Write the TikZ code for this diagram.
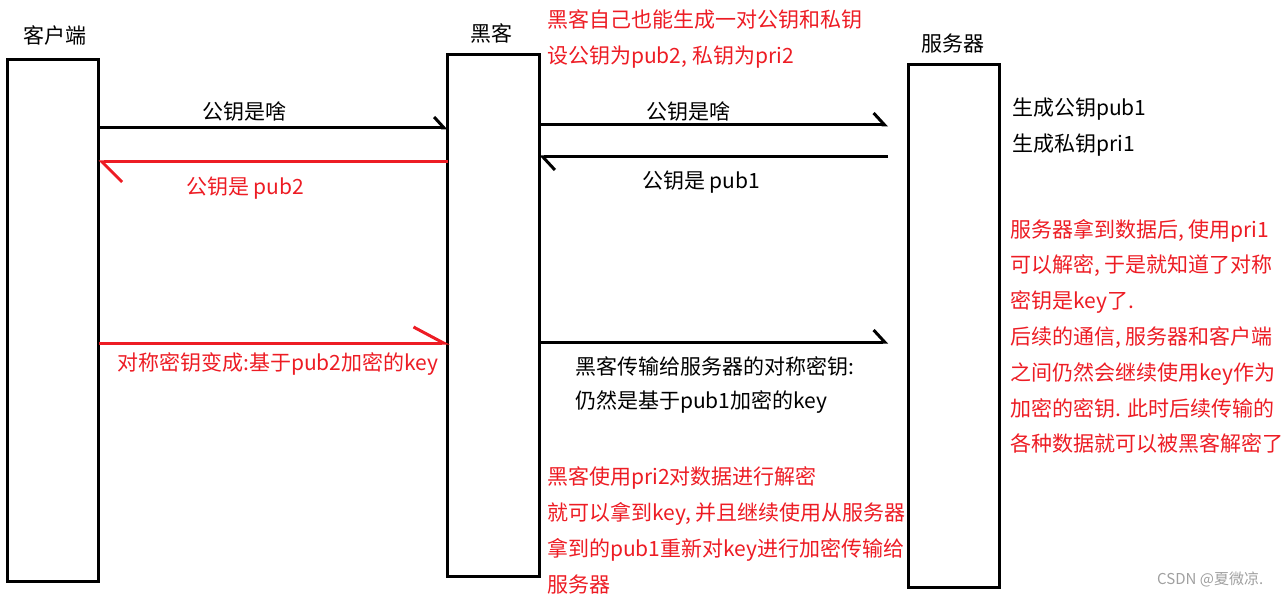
\documentclass[tikz,border=0pt]{standalone}
\usepackage{fontspec}
\setmainfont{Noto Sans CJK SC}
\usetikzlibrary{arrows.meta}
\definecolor{paintred}{RGB}{237, 28, 36}
\definecolor{markgray}{RGB}{160, 160, 160}
\tikzset{
    party/.style={rectangle, draw=black, line width=3pt, minimum width=91pt, minimum height=522pt, outer sep=0pt, inner sep=0pt},
    txt/.style={inner sep=0pt, anchor=base west, font=\fontsize{21}{24}\selectfont},
    msg/.style={line width=3pt},
    barbtip/.style 2 args={-{Straight Barb[harpoon, length=#1, width=#2]}}
}

\begin{document}
\begin{tikzpicture}[x=1pt, y=-1pt]
            \useasboundingbox (0,0) rectangle (1284,596);
            % the three parties
            \node (client) [party] at (53,320.5) {};
            \node (hacker) [party, minimum width=92pt] at (493.5,315.7) {};
            \node (server) [party, minimum height=523pt] at (954,326) {};
            \node (clientlbl) [txt, anchor=base] at (55,44) {客户端};
            \node (hackerlbl) [txt, anchor=base] at (491,42) {黑客};
            \node (serverlbl) [txt, anchor=base] at (953,52) {服务器};

            % free ends in front of the server
            \coordinate (ask2) at (888,125);
            \coordinate (reply2) at (888,157);
            \coordinate (key2) at (888,342);

            % messages
            \draw [msg, barbtip={10pt}{22pt}] (client.east |- 0,128) -- (hacker.west |- 0,128);
            \draw [msg, paintred, barbtip={20pt}{40pt}] (hacker.west |- 0,162) -- (client.east |- 0,162);
            \draw [msg, barbtip={11pt}{24pt}] (hacker.east |- 0,125) -- (ask2);
            \draw [msg, barbtip={12pt}{26pt}] (reply2) -- (hacker.east |- 0,157);
            \draw [msg, paintred, barbtip={30pt}{32pt}] (client.east |- 0,343) -- ([xshift=2pt]hacker.west |- 0,343);
            \draw [msg, barbtip={11pt}{24pt}] (hacker.east |- 0,342) -- (key2);

            \node (ask1lbl) [txt] at (202,120) {公钥是啥};
            \node (reply1lbl) [txt, text=paintred] at (186,194) {公钥是 pub2};
            \node (ask2lbl) [txt] at (646,120) {公钥是啥};
            \node (reply2lbl) [txt] at (642,189) {公钥是 pub1};
            \node (key1lbl) [txt, text=paintred] at (117,370) {对称密钥变成:基于pub2加密的key};
            \node (key2lbla) [txt] at (575,374) {黑客传输给服务器的对称密钥:};
            \node (key2lblb) [txt] at (575,408) {仍然是基于pub1加密的key};

            % notes
            \node (hackernote1) [txt, text=paintred] at (547,28) {黑客自己也能生成一对公钥和私钥};
            \node (hackernote2) [txt, text=paintred] at (547,64) {设公钥为pub2, 私钥为pri2};
            \node (servernote1) [txt] at (1012,116) {生成公钥pub1};
            \node (servernote2) [txt] at (1012,152) {生成私钥pri1};
            \foreach \line [count=\i] in {{服务器拿到数据后, 使用pri1}, {可以解密, 于是就知道了对称}, {密钥是key了.}, {后续的通信, 服务器和客户端}, {之间仍然会继续使用key作为}, {加密的密钥. 此时后续传输的}, {各种数据就可以被黑客解密了}}
                \node (endnote\i) [txt, text=paintred] at (1010,237+35.8*\i-35.8) {\line};
            \foreach \line [count=\i] in {{黑客使用pri2对数据进行解密}, {就可以拿到key, 并且继续使用从服务器}, {拿到的pub1重新对key进行加密传输给}, {服务器}}
                \node (decnote\i) [txt, text=paintred] at (547,484+36*\i-36) {\line};

            \node (mark) [txt, text=markgray, font=\fontsize{15}{18}\selectfont] at (1157,584) {CSDN @夏微凉.};
        \end{tikzpicture}
\end{document}
